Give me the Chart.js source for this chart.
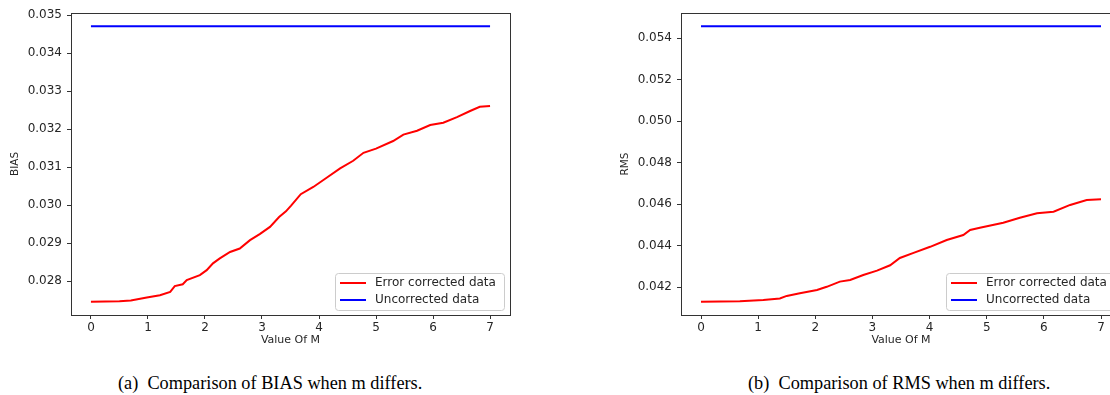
<!DOCTYPE html>
<html>
<head>
<meta charset="utf-8">
<script src="https://cdn.jsdelivr.net/npm/chart.js@4.4.1/dist/chart.umd.min.js"></script>
<style>
  html, body { margin: 0; padding: 0; background: #fff; }
  #wrap { position: relative; width: 1110px; height: 395px; overflow: hidden; background: #fff; }
  .cv { position: absolute; top: 0; }
  .cap { position: absolute; font-family: "Liberation Serif", "Times New Roman", serif; font-size: 18.3px; color: #000; white-space: nowrap; line-height: 20px; }
</style>
</head>
<body>
<div id="wrap">
  <div class="cv" style="left:0px;width:540px;height:360px;"><canvas id="c1" width="540" height="360"></canvas></div>
  <div class="cv" style="left:610px;width:541px;height:360px;"><canvas id="c2" width="541" height="360"></canvas></div>
  <div class="cap" id="cap1" style="left:118px;top:373px;">(a)&nbsp; Comparison of BIAS when m differs.</div>
  <div class="cap" id="cap2" style="left:748px;top:373px;">(b)&nbsp; Comparison of RMS when m differs.</div>
</div>
<script>
// ---------- data ----------
const mTicks = [0, 1, 2, 3, 4, 5, 6, 7];
const mEnds = [0, 7];

const mBias = [0,0.5,0.7,0.98,1.21,1.39,1.47,1.61,1.68,1.91,2.03,2.14,2.26,2.44,2.61,2.79,2.96,3.14,3.3,3.42,3.51,3.68,3.9,4.14,4.37,4.6,4.78,5.0,5.3,5.48,5.72,5.95,6.18,6.42,6.65,6.82,7.0];
const biasCorrected = [0.02746,0.02747,0.02749,0.02757,0.02763,0.02772,0.02787,0.02792,0.02803,0.02816,0.02829,0.02847,0.0286,0.02877,0.02886,0.02908,0.02924,0.02943,0.02969,0.02984,0.02999,0.03029,0.03048,0.03073,0.03097,0.03117,0.03138,0.03149,0.03169,0.03186,0.03196,0.03211,0.03217,0.03232,0.03248,0.03259,0.03261];
const biasUncorrected = [0.03471, 0.03471];
const biasTicks = [0.028, 0.029, 0.030, 0.031, 0.032, 0.033, 0.034, 0.035];

const mRms = [0,0.68,1.09,1.38,1.5,1.73,2.03,2.2,2.43,2.61,2.84,3.08,3.31,3.48,3.72,4.01,4.3,4.59,4.71,4.88,5.29,5.58,5.88,6.17,6.46,6.75,7.0];
const rmsCorrected = [0.04129,0.04131,0.04137,0.04145,0.04157,0.0417,0.04186,0.04201,0.04226,0.04234,0.04258,0.04279,0.04305,0.0434,0.04365,0.04394,0.04427,0.04451,0.04475,0.04486,0.0451,0.04534,0.04556,0.04563,0.04596,0.0462,0.04623];
const rmsUncorrected = [0.05458, 0.05458];
const rmsTicks = [0.042, 0.044, 0.046, 0.048, 0.050, 0.052, 0.054];

const seriesLabels = ['Error corrected data', 'Uncorrected data'];
const xTitle = 'Value Of M';

// ---------- helpers ----------
const FONT = "'DejaVu Sans', Verdana, sans-serif";
const INK = '#262626';

function pts(xs, ys) { return xs.map((x, i) => ({ x: x, y: ys[i] })); }

const framePlugin = {
  id: 'frame',
  afterDraw(chart) {
    const a = chart.chartArea, ctx = chart.ctx;
    ctx.save();
    ctx.strokeStyle = '#333';
    ctx.lineWidth = 1;
    ctx.strokeRect(Math.round(a.left) + 0.5, Math.round(a.top) + 0.5, Math.round(a.right - a.left), Math.round(a.bottom - a.top));
    // legend box (inside, lower right)
    const bw = 169, bh = 37;
    const bx = a.right - 6 - bw, by = a.bottom - 5 - bh;
    ctx.beginPath();
    if (ctx.roundRect) ctx.roundRect(bx + 0.5, by + 0.5, bw, bh, 3); else ctx.rect(bx + 0.5, by + 0.5, bw, bh);
    ctx.fillStyle = 'rgba(255,255,255,0.85)';
    ctx.fill();
    ctx.strokeStyle = '#cccccc';
    ctx.stroke();
    chart.data.datasets.forEach((ds, i) => {
      const ry = by + 10 + i * 17;
      ctx.beginPath();
      ctx.strokeStyle = ds.borderColor;
      ctx.lineWidth = 2;
      ctx.moveTo(bx + 5, ry);
      ctx.lineTo(bx + 31, ry);
      ctx.stroke();
      ctx.fillStyle = INK;
      ctx.font = '12px ' + FONT;
      ctx.textBaseline = 'middle';
      ctx.textAlign = 'left';
      ctx.fillText(ds.label, bx + 40, ry);
    });
    ctx.restore();
  }
};

function makeChart(id, xsC, ysC, ysU, yTicks, yTitle, yMin, yMax) {
  return new Chart(document.getElementById(id), {
    type: 'line',
    data: {
      datasets: [
        { label: seriesLabels[0], data: pts(xsC, ysC), borderColor: '#ff0000', borderWidth: 2, pointRadius: 0, tension: 0, fill: false },
        { label: seriesLabels[1], data: pts(mEnds, ysU), borderColor: '#0000ff', borderWidth: 2, pointRadius: 0, tension: 0, fill: false }
      ]
    },
    options: {
      responsive: false,
      animation: false,
      events: [],
      layout: { padding: { left: 0, right: 30, top: 13, bottom: 13 } },
      plugins: { legend: { display: false }, tooltip: { enabled: false } },
      scales: {
        x: {
          type: 'linear',
          min: -0.35, max: 7.35,
          afterBuildTicks: s => { s.ticks = mTicks.map(v => ({ value: v })); },
          afterFit: s => { s.height = 32; },
          grid: { display: true, drawOnChartArea: false, drawTicks: true, tickLength: 4, color: '#333' },
          border: { display: false },
          ticks: { color: INK, font: { family: FONT, size: 12 }, padding: 2, maxRotation: 0, callback: v => String(v) },
          title: { display: true, text: xTitle, color: INK, font: { family: FONT, size: 11 }, padding: { top: 0, bottom: 0 } }
        },
        y: {
          type: 'linear',
          min: yMin, max: yMax,
          afterBuildTicks: s => { s.ticks = yTicks.map(v => ({ value: v })); },
          afterFit: s => { s.width = 71; },
          grid: { display: true, drawOnChartArea: false, drawTicks: true, tickLength: 4, color: '#333' },
          border: { display: false },
          ticks: { color: INK, font: { family: FONT, size: 12 }, padding: 5, callback: v => v.toFixed(3) },
          title: { display: true, text: yTitle, color: INK, font: { family: FONT, size: 10.5 }, padding: { top: 9, bottom: 0 } }
        }
      }
    },
    plugins: [framePlugin]
  });
}

makeChart('c1', mBias, biasCorrected, biasUncorrected, biasTicks, 'BIAS', 0.02711, 0.03506);
makeChart('c2', mRms, rmsCorrected, rmsUncorrected, rmsTicks, 'RMS', 0.04065, 0.05522);
</script>
</body>
</html>
